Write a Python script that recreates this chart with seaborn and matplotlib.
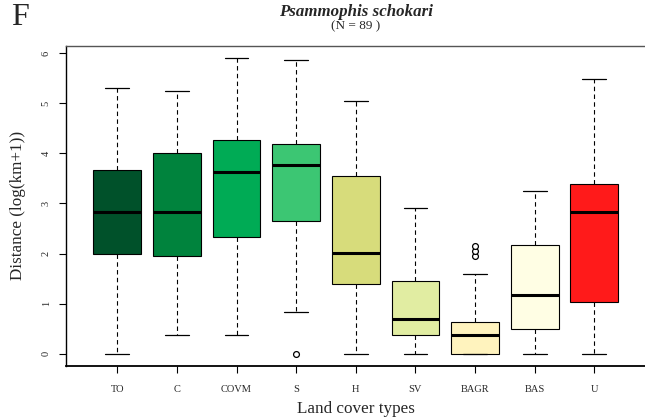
import numpy as np
import pandas as pd
import matplotlib
matplotlib.use("Agg")
import matplotlib.pyplot as plt
import seaborn as sns

# five-number summaries
cover = ["TO", "C", "COVM", "S", "H", "SV", "BAGR", "BAS", "U"]
lo = [0.00, 0.37, 0.37, 0.83, 0.00, 0.00, 0.00, 0.00, 0.00]
q1 = [2.00, 1.96, 2.33, 2.65, 1.39, 0.37, 0.00, 0.49, 1.03]
med = [2.83, 2.83, 3.62, 3.77, 2.01, 0.70, 0.37, 1.18, 2.82]
q3 = [3.67, 4.01, 4.26, 4.19, 3.55, 1.45, 0.63, 2.17, 3.39]
hi = [5.31, 5.25, 5.91, 5.87, 5.05, 2.91, 1.60, 3.25, 5.49]

out_cover = ["S", "BAGR", "BAGR", "BAGR"]
out_value = [0.00, 1.95, 2.05, 2.15]

colors = ["#00512A", "#00833D", "#00AB55", "#3CC673", "#D7DC7B",
          "#E1EDA2", "#FFF3BE", "#FFFEE4", "#FF1A1A"]

rows = []
for i, c in enumerate(cover):
    for v in (lo[i], q1[i], med[i], q3[i], hi[i]):
        rows.append({"cover": c, "dist": v})
df = pd.DataFrame(rows)
df_out = pd.DataFrame({"cover": out_cover, "dist": out_value})

sns.set_style("ticks")
plt.rcParams["font.family"] = ["Liberation Serif", "DejaVu Serif"]

fig = plt.figure(figsize=(6.45, 4.19), dpi=100)
ax = fig.add_axes([66 / 645, 53.3 / 419, 579.6 / 645, 320 / 419])

sns.boxplot(
    data=df, x="cover", y="dist", hue="cover", order=cover, hue_order=cover,
    palette=colors, saturation=1, width=0.8, whis=np.inf, legend=False,
    linecolor="black", linewidth=0.8, ax=ax,
    medianprops={"linewidth": 2.2, "color": "black"},
    whiskerprops={"linestyle": (0, (4, 3)), "linewidth": 0.8},
    capprops={"linewidth": 0.9},
)
sns.stripplot(
    data=df_out, x="cover", y="dist", order=cover, jitter=False,
    color="white", edgecolor="black", linewidth=0.9, size=4.2, ax=ax,
)

ax.set_xlim(-0.86, 8.86)
ax.set_ylim(-0.236, 6.146)
ax.set_yticks(range(0, 7))

for s in ax.spines.values():
    s.set_color("#555555")
    s.set_linewidth(1.0)
ax.spines["left"].set_color("black")
ax.spines["bottom"].set_color("black")
ax.spines["bottom"].set_linewidth(1.3)

ax.tick_params(axis="both", length=5, width=0.8, color="black", labelsize=7.5)
ax.tick_params(axis="x", pad=9)
ax.tick_params(axis="y", pad=6)
for lab in ax.get_yticklabels():
    lab.set_rotation(90)
    lab.set_va("center")
    lab.set_ha("right")

ax.set_xlabel("Land cover types", fontsize=12.3)
ax.set_ylabel("Distance (log(km+1))", fontsize=12.3)
ax.xaxis.set_label_coords(0.5, (365.7 - 409) / 320)
ax.xaxis.label.set_va("center")
ax.yaxis.set_label_coords((18 - 66) / 579.6, 0.5)
ax.yaxis.label.set_va("center")

fig.text(355.8 / 645, (419 - 12) / 419, "Psammophis schokari", ha="center",
         va="center", fontsize=12.2, fontweight="bold", fontstyle="italic")
fig.text(355.8 / 645, (419 - 26) / 419, "(N = 89 )", ha="center", va="center",
         fontsize=9.5)
fig.text(20 / 645, (419 - 17.5) / 419, "F", ha="center", va="center",
         fontsize=23)

fig.savefig("out.png", dpi=100)
